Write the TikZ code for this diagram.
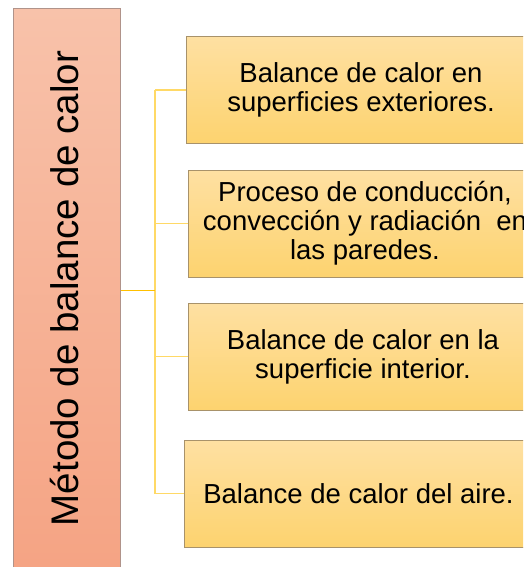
\documentclass[tikz,border=0pt]{standalone}
\usepackage{fontspec}
\setmainfont{Liberation Sans}
\definecolor{boxtop}{HTML}{FEE0A2}
\definecolor{boxbot}{HTML}{FDD36F}
\definecolor{boxline}{HTML}{A8926A}
\definecolor{lefttop}{HTML}{F8C2AA}
\definecolor{leftbot}{HTML}{F5A383}
\definecolor{leftline}{HTML}{B0938A}
\definecolor{conlight}{HTML}{FFD966}
\definecolor{condark}{HTML}{FFC000}
\tikzset{
  itembox/.style={draw=boxline, line width=1pt, top color=boxtop, bottom color=boxbot,
    minimum height=107pt, inner sep=0pt, align=center,
    font=\fontsize{27.5}{29}\selectfont},
  mainbox/.style={draw=leftline, line width=1pt, top color=lefttop, bottom color=leftbot,
    minimum width=107pt, minimum height=571pt, inner sep=0pt},
  conn/.style={draw=conlight, line width=1.3pt},
  conndark/.style={draw=condark, line width=1.3pt}
}
\begin{document}
\begin{tikzpicture}[x=1pt,y=-1pt]
\useasboundingbox (0,0) rectangle (523,567);
\clip (0,0) rectangle (523,567);
\fill[white] (0,0) rectangle (523,567);
\node[mainbox] (main) at (66.5,294.5) {};
\node[rotate=90, anchor=base, font=\fontsize{38.5}{40}\selectfont] (maintext) at (78,288.5) {Método de balance de calor};
\node[itembox, minimum width=350pt] (b1) at (361,90) {Balance de calor en\\superficies exteriores.};
\node[itembox, minimum width=354pt] (b2) at (365,223.5) {Proceso de conducción,\\convección y radiación\ \ en\\las paredes.};
\node[itembox, minimum width=350pt] (b3) at (363,356.5) {Balance de calor en la\\superficie interior.};
\node[itembox, minimum width=349pt] (b4) at (358.5,493.5) {Balance de calor del aire.};
\coordinate (hub) at (155,290.5);
\coordinate (top) at (155,90);
\coordinate (bot) at (155,493.5);
\draw[conn] (top) -- (bot);
\draw[conn] (top) -- (b1.west);
\draw[conn] (hub |- b2.west) -- (b2.west);
\draw[conn] (hub |- b3.west) -- (b3.west);
\draw[conn] (bot) -- (b4.west);
\draw[conndark] (main.east |- hub) -- (hub);
\end{tikzpicture}
\end{document}
